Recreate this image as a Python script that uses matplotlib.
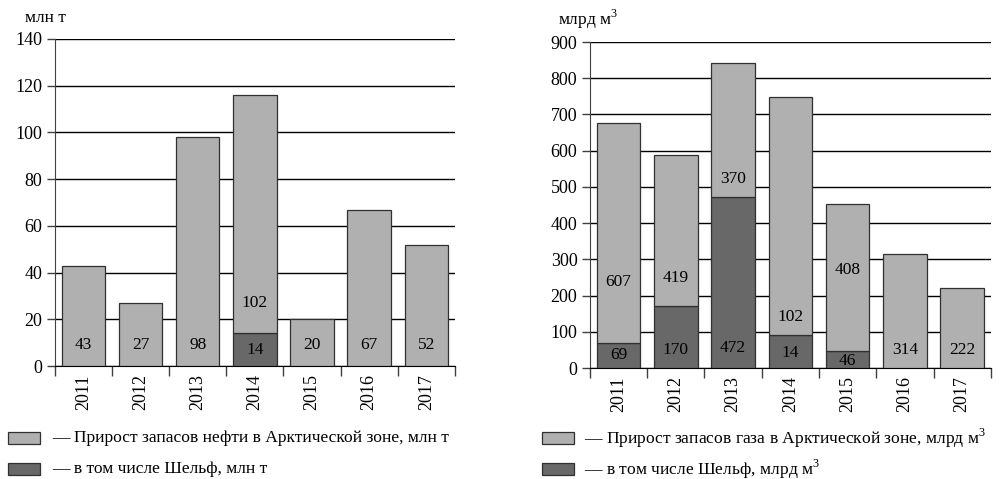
import matplotlib
matplotlib.use('Agg')
import matplotlib.pyplot as plt
import numpy as np
from matplotlib.patches import Rectangle

plt.rcParams['font.family'] = ['Liberation Serif', 'DejaVu Serif']
plt.rcParams['mathtext.fontset'] = 'custom'
plt.rcParams['mathtext.rm'] = 'Liberation Serif'

years = ['2011', '2012', '2013', '2014', '2015', '2016', '2017']

# oil, mln t
oil_shelf = [0, 0, 0, 14, 0, 0, 0]
oil_rest = [43, 27, 98, 102, 20, 67, 52]
oil_shelf_txt = ['', '', '', '14', '', '', '']
oil_rest_txt = ['43', '27', '98', '102', '20', '67', '52']

# gas, bn m3
gas_shelf = [69, 170, 472, 91, 46, 0, 0]
gas_rest = [607, 419, 370, 657, 408, 314, 222]
gas_shelf_txt = ['69', '170', '472', '14', '46', '', '']
gas_rest_txt = ['607', '419', '370', '102', '408', '314', '222']

LIGHT = '#b0b0b0'
DARK = '#686868'
EDGE = '#303030'
FS = 13
VAL_FS = 12.5
LEG_FS = 12.6


def draw_panel(ax, shelf, rest, shelf_txt, rest_txt, ymax, ystep,
               shelf_lbl_y, rest_lbl_y):
    x = np.arange(len(years))
    shelf = np.array(shelf)
    rest = np.array(rest)
    ax.bar(x, shelf, width=0.76, color=DARK, edgecolor=EDGE, linewidth=0.9, zorder=3)
    ax.bar(x, rest, bottom=shelf, width=0.76, color=LIGHT, edgecolor=EDGE,
           linewidth=0.9, zorder=3)

    for i in x:
        if shelf_txt[i]:
            ax.text(i, shelf_lbl_y[i], shelf_txt[i], ha='center', va='center',
                    fontsize=VAL_FS, zorder=4)
        if rest_txt[i]:
            ax.text(i, rest_lbl_y[i], rest_txt[i], ha='center', va='center',
                    fontsize=VAL_FS, zorder=4)

    ax.set_xlim(-0.5, len(years) - 0.5)
    ax.set_ylim(0, ymax)
    ax.set_yticks(np.arange(0, ymax + 1, ystep))
    ax.yaxis.grid(True, color='black', linewidth=1.0, zorder=0)
    ax.set_axisbelow(True)

    ax.set_xticks(x)
    ax.set_xticklabels(years, rotation=90, fontsize=FS)
    ax.set_xticks(np.arange(-0.5, len(years)), minor=True)
    ax.tick_params(axis='x', which='major', length=0, pad=6)
    ax.tick_params(axis='x', which='minor', length=7, width=1, color='#404040')
    ax.tick_params(axis='y', length=6, width=1, color='#404040', labelsize=FS, pad=3)

    for s in ['top', 'right']:
        ax.spines[s].set_visible(False)
    ax.spines['left'].set_color('#404040')
    ax.spines['bottom'].set_color('black')


fig = plt.figure(figsize=(10.02, 4.79), dpi=100)

ax1 = fig.add_axes([0.0549, 0.2359, 0.399, 0.6827])
draw_panel(ax1, oil_shelf, oil_rest, oil_shelf_txt, oil_rest_txt, 140, 20,
           shelf_lbl_y=[0, 0, 0, 7, 0, 0, 0],
           rest_lbl_y=[9, 9, 9, 27, 9, 9, 9])

ax2 = fig.add_axes([0.5888, 0.2317, 0.400, 0.6806])
draw_panel(ax2, gas_shelf, gas_rest, gas_shelf_txt, gas_rest_txt, 900, 100,
           shelf_lbl_y=[36, 50, 55, 41, 19, 0, 0],
           rest_lbl_y=[237, 248, 522, 141, 270, 50, 50])

fig.text(25 / 1002, 1 - 18 / 479, 'млн т', fontsize=12.5, va='center', ha='left')
fig.text(558 / 1002, 1 - 19 / 479, 'млрд м$^3$', fontsize=12.5, va='center', ha='left')

# legend rows
legend_rows = [
    (8, 52, 'Прирост запасов нефти в Арктической зоне, млн т', 'в том числе Шельф, млн т'),
    (542, 584, 'Прирост запасов газа в Арктической зоне, млрд м$^3$', 'в том числе Шельф, млрд м$^3$'),
]
for bx, tx, t1, t2 in legend_rows:
    for cy, col, txt in [(438, LIGHT, t1), (469, DARK, t2)]:
        fig.patches.append(Rectangle((bx / 1002, 1 - (cy + 6) / 479), 32 / 1002, 12 / 479,
                                     transform=fig.transFigure, facecolor=col,
                                     edgecolor=EDGE, linewidth=0.9))
        fig.text(tx / 1002, 1 - cy / 479, '— ' + txt, fontsize=LEG_FS, va='center', ha='left')

fig.savefig('out.png', dpi=100)
